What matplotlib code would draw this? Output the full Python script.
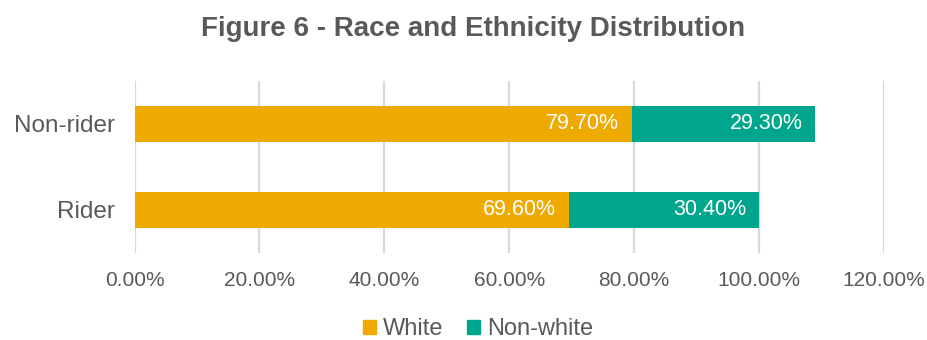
import matplotlib
matplotlib.use("Agg")
import matplotlib.pyplot as plt
from matplotlib.patches import Patch

categories = ["Rider", "Non-rider"]
white_pct = [69.60, 79.70]
nonwhite_pct = [30.40, 29.30]
series_names = ["White", "Non-white"]
xticks = [0, 20, 40, 60, 80, 100, 120]

C_WHITE = "#EEAA00"
C_NONWHITE = "#00A68B"
TEXT = "#595959"
GRID = "#D9D9D9"
WORD_FONT = ["Liberation Sans", "DejaVu Sans"]

fig = plt.figure(figsize=(9.28, 3.4), dpi=100)
ax = fig.add_axes([0.145, 0.256, 0.8076, 0.506])

y = list(range(len(categories)))
h = 0.41
b1 = ax.barh(y, white_pct, height=h, color=C_WHITE, zorder=3)
b2 = ax.barh(y, nonwhite_pct, left=white_pct, height=h, color=C_NONWHITE, zorder=3)

# value labels sit just inside the end of each segment
for lefts, vals in (([0] * len(y), white_pct), (white_pct, nonwhite_pct)):
    for yi, l, v in zip(y, lefts, vals):
        ax.annotate(f"{v:.2f}%", xy=(l + v, yi), xytext=(-13, 0),
                    textcoords="offset pixels", ha="right", va="center",
                    color="white", fontsize=15.5, family=WORD_FONT, zorder=4)

ax.set_xlim(0, 120)
ax.set_ylim(-0.5, 1.5)
ax.set_xticks(xticks)
ax.set_xticklabels([f"{t:.2f}%" for t in xticks], family=WORD_FONT, fontsize=15, color=TEXT)
ax.set_yticks(y)
ax.set_yticklabels(categories, family=WORD_FONT, fontsize=17.5, color=TEXT)
ax.tick_params(axis="x", length=0, pad=13)
ax.tick_params(axis="y", length=0, pad=14)
ax.grid(axis="x", color=GRID, linewidth=1.6, zorder=0)
for s in ax.spines.values():
    s.set_visible(False)

fig.text(0.51, 0.915, "Figure 6 - Race and Ethnicity Distribution", ha="center", va="center",
         fontsize=20, fontweight="bold", color=TEXT, family=WORD_FONT)

handles = [Patch(color=C_WHITE), Patch(color=C_NONWHITE)]
fig.legend(handles, series_names, loc="center", bbox_to_anchor=(0.515, 0.032),
           ncol=2, frameon=False, handlelength=0.55, handleheight=0.55,
           handletextpad=0.3, columnspacing=1.0,
           prop={"family": WORD_FONT, "size": 17}, labelcolor=TEXT)

fig.savefig("out.png", dpi=100)
